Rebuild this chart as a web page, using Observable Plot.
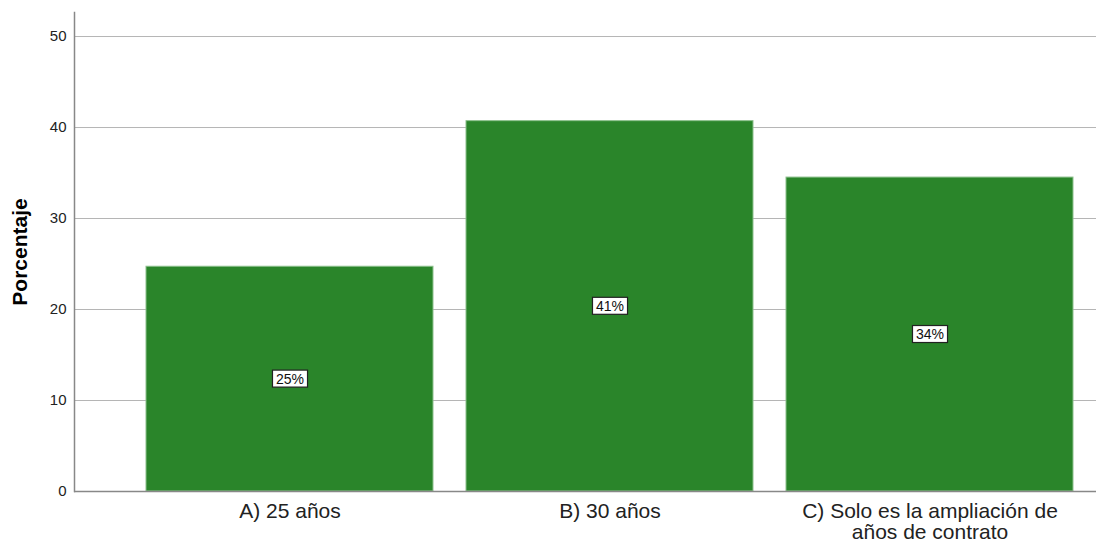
<!DOCTYPE html>
<html><head><meta charset="utf-8">
<script src="https://cdn.jsdelivr.net/npm/d3@7"></script>
<script src="https://cdn.jsdelivr.net/npm/@observablehq/plot@0.6"></script>
<style>body{margin:0;background:#fff;font-family:"Liberation Sans",Arial,sans-serif}</style>
</head><body><div id="chart"></div>
<script>
const categories = ["A) 25 años", "B) 30 años", "C) Solo es la ampliación de años de contrato"];
const tickLabels = ["A) 25 años", "B) 30 años", "C) Solo es la ampliación de\naños de contrato"];
const values = [24.7, 40.7, 34.5];
const valueLabels = ["25%", "41%", "34%"];
const yTicks = [0, 10, 20, 30, 40, 50];
const yLabel = "Porcentaje";

const data = categories.map((c, i) => ({category: c, value: values[i], label: valueLabels[i]}));

const chart = Plot.plot({
  width: 1096, height: 542,
  marginLeft: 74, marginRight: 0, marginTop: 12, marginBottom: 51,
  style: {fontFamily: '"Liberation Sans", Arial, sans-serif', background: "white", color: "#222"},
  x: {domain: categories, paddingInner: 0.103, paddingOuter: 0.146, align: 0.76, label: null},
  y: {domain: [0, 52.64], label: null},
  marks: [
    Plot.gridY(yTicks, {stroke: "#b5b5b5", strokeOpacity: 1, strokeWidth: 1}),
    Plot.barY(data, {x: "category", y: "value", fill: "#2a852a", stroke: "#8cc08c", strokeWidth: 1}),
    Plot.ruleY([0], {stroke: "#888", strokeWidth: 1.5}),
    Plot.frame({anchor: "left", stroke: "#888", strokeWidth: 1.5}),
    Plot.axisY(yTicks, {tickSize: 0, tickPadding: 8, fontSize: 15, label: yLabel, labelArrow: false, labelAnchor: "center", labelOffset: 62}),
    Plot.axisX({tickSize: 0, tickPadding: 12, fontSize: 21, lineHeight: 1.0, fill: "#222",
      tickFormat: d => tickLabels[categories.indexOf(d)]}),
    Plot.text(data, {x: "category", y: d => d.value / 2, text: "label", fontSize: 14, fill: "#111"})
  ]
});
document.getElementById("chart").append(chart);

// y-axis title style
chart.querySelectorAll('g[aria-label="y-axis label"]').forEach(g => {
  g.setAttribute("font-size", "21");
  g.setAttribute("font-weight", "bold");
  g.setAttribute("fill", "#000");
  g.querySelectorAll("text").forEach(t => { t.textContent = yLabel; });
});
// white boxes behind bar labels
chart.querySelectorAll('g[aria-label="text"] text').forEach(t => {
  const b = t.getBBox();
  const r = document.createElementNS("http://www.w3.org/2000/svg", "rect");
  r.setAttribute("x", b.x - 3.5);
  r.setAttribute("y", b.y - 0.5);
  r.setAttribute("width", b.width + 7);
  r.setAttribute("height", b.height + 1);
  if (t.getAttribute("transform")) r.setAttribute("transform", t.getAttribute("transform"));
  r.setAttribute("fill", "white");
  r.setAttribute("stroke", "#222");
  r.setAttribute("stroke-width", "1.2");
  t.parentNode.insertBefore(r, t);
});
</script>
</body></html>
